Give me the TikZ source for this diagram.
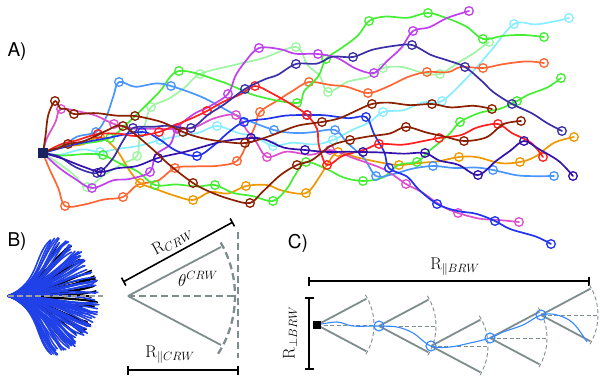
\documentclass[tikz,border=0pt]{standalone}
\usepackage{fontspec}
\newfontfamily\heros{TeX Gyre Heros}
\usetikzlibrary{arrows.meta}
\definecolor{cBrown}{HTML}{8B2000}
\definecolor{cRed}{HTML}{FF1F1F}
\definecolor{cOrg}{HTML}{FF6633}
\definecolor{cGold}{HTML}{EE9900}
\definecolor{cGreen}{HTML}{44EE33}
\definecolor{cLGreen}{HTML}{A0F5A5}
\definecolor{cCyan}{HTML}{88EEFF}
\definecolor{cLBlue}{HTML}{4A95FF}
\definecolor{cBlue}{HTML}{2233EE}
\definecolor{cInd}{HTML}{3A2FA5}
\definecolor{cIndB}{HTML}{3311AA}
\definecolor{cPurp}{HTML}{C040F0}
\definecolor{cMag}{HTML}{DD50CC}
\definecolor{cGray}{HTML}{7F8C8D}
\definecolor{cNavy}{HTML}{1A2260}
\definecolor{cWalk}{HTML}{3388FF}
\definecolor{cFan}{HTML}{2040E8}
\newcommand\rwalk[2]{%
  \gdef\wpts{}\gdef\lx{43}\gdef\ly{153}%
  \foreach \x/\y in {#2}{%
    \pgfmathsetmacro\ax{(2*\lx+\x)/3+3.5*rand}%
    \pgfmathsetmacro\ay{(2*\ly+\y)/3+3.5*rand}%
    \pgfmathsetmacro\bx{(\lx+2*\x)/3+3.5*rand}%
    \pgfmathsetmacro\by{(\ly+2*\y)/3+3.5*rand}%
    \xdef\wpts{\wpts (\ax,\ay) (\bx,\by) (\x,\y)}\xdef\lx{\x}\xdef\ly{\y}}%
  \edef\wtmp{\noexpand\draw[walkline,draw=#1] plot[smooth,tension=0.55] coordinates {(43,153) \wpts};}%
  \wtmp
  \foreach \x/\y in {#2}{\draw[draw=#1,line width=1.3pt] (\x,\y) circle[radius=4.3];}}
\newcommand\csector[1]{%
  \draw[csolid] (#1) -- ++(-28:56);
  \draw[csolid] (#1) -- ++(28:56);
  \draw[cdash] (#1) -- ++(0:57);
  \draw[cdash] (#1) ++(-32:57) arc[start angle=-32,end angle=32,radius=57];}
\begin{document}
\begin{tikzpicture}[x=1pt,y=-1pt,
  walkline/.style={line width=1.7pt,line cap=round,line join=round},
  fanline/.style={line width=1.6pt,line cap=round},
  bsolid/.style={draw=cGray,line width=1.8pt},
  bdash/.style={draw=cGray,line width=2.3pt,dash pattern=on 7pt off 4pt},
  csolid/.style={draw=cGray,line width=1.8pt},
  cdash/.style={draw=cGray,line width=0.9pt,dash pattern=on 4pt off 2.5pt},
  dimline/.style={line width=1.6pt,{Bar[width=9pt]}-{Bar[width=9pt]}},
  plabel/.style={font=\heros\fontsize{19}{19}\selectfont,inner sep=0pt},
  mlabel/.style={font=\fontsize{17}{17}\selectfont,inner sep=1pt}]
\useasboundingbox (0,0) rectangle (600,383);
\pgfmathsetseed{11}

% ---------- Panel A ----------
\node[plabel] (lA) at (17,52) {A)};
\rwalk{cLGreen}{87/187,137/156,151/107,200/74,296/47,328/92,383/68,440/74,489/42}
\rwalk{cCyan}{100/152,160/140,217/126,273/146,333/140,383/112,442/101,514/24,569/18}
\rwalk{cOrg}{65/206,123/197,175/168,237/161,260/112,309/82,368/93,427/72,483/68,544/63}
\rwalk{cGold}{100/137,140/183,193/200,246/186,306/193,338/152,399/165,459/157,520/162,574/137}
\rwalk{cGreen}{103/155,155/185,215/185,273/201,306/162,363/181,417/162,460/122,517/101,561/78}
\rwalk{cGreen}{110/138,179/71,297/103,326/59,369/21,428/13,483/39,544/37}
\rwalk{cLBlue}{96/132,119/82,171/86,274/130,335/130,376/176,433/166,493/170,554/176}
\rwalk{cMag}{61/109,114/124,177/129,236/115,267/157,330/150,406/184,458/213,519/222}
\rwalk{cPurp}{92/188,150/172,177/128,228/94,259/48,318/54,374/73,413/31,469/11}
\rwalk{cBlue}{142/132,197/156,244/122,307/115,366/117,389/168,437/204,495/221,551/244}
\rwalk{cRed}{98/134,159/132,207/111,255/86,307/115,327/165,379/144,439/138,498/124,543/157}
\rwalk{cInd}{97/173,133/128,191/128,245/89,296/64,353/57,412/45,465/67,512/104,562/131}
\rwalk{cIndB}{101/172,158/158,251/138,305/150,363/152,425/153,478/175,524/141,573/176}
\rwalk{cBrown}{55/101,74/114,135/116,183/132,245/143,322/122,372/104,432/104,492/109}
\rwalk{cBrown}{68/144,123/126,193/183,250/203,297/165,350/140,406/127,464/141,521/121}
\node[fill=cNavy,minimum size=10pt,inner sep=0pt] (O) at (43,153) {};

% ---------- Panel B ----------
\node[plabel] (lB) at (17,242) {B)};
\coordinate (F) at (8,296);
\pgfmathsetseed{7}
\foreach \i in {1,...,30}{
  \pgfmathsetmacro\a{rand*52}
  \pgfmathsetmacro\L{86-16*(\a/52)^2+4*rand}
  \pgfmathsetmacro\c{\a*0.35+6*rand}
  \pgfmathsetmacro\e{\a+180+15*rand}
  \draw[fanline,draw=black] (F) .. controls +(\c:35) and +(\e:22) .. +(\a:\L);
}
\foreach \i in {1,...,90}{
  \pgfmathsetmacro\a{rand*55}
  \pgfmathsetmacro\L{88-18*(\a/55)^2+4*rand}
  \pgfmathsetmacro\c{\a*0.35+6*rand}
  \pgfmathsetmacro\e{\a+180+15*rand}
  \draw[fanline,draw=cFan] (F) .. controls +(\c:35) and +(\e:22) .. +(\a:\L);
}
\coordinate (Fe) at (103,296);
\draw[draw=gray!75,line width=1.3pt,dash pattern=on 6pt off 3pt] (F) -- (Fe);

\coordinate (Ba) at (128,296);
\coordinate (Bu) at (221,247);
\coordinate (Bl) at (221,345);
\coordinate (Bc) at (235,296);
\draw[bsolid] (Ba) -- (Bu);
\draw[bsolid] (Ba) -- (Bl);
\draw[bdash] (Ba) -- (Bc);
\draw[bdash] (Ba) ++(-30:107) arc[start angle=-30,end angle=33,radius=107];
\coordinate (Bvt) at (238,232);
\coordinate (Bvb) at (238,358);
\draw[bdash] (Bvt) -- (Bvb);

\coordinate (D1a) at (123,282);
\coordinate (D1b) at (233,222);
\draw[dimline] (D1a) -- (D1b) node[midway,sloped,above=3pt,mlabel] {$\mathrm{R}_{CRW}$};
\node[mlabel] (th) at (198,279) {$\theta^{CRW}$};
\coordinate (D2a) at (127,370);
\coordinate (D2b) at (239,370);
\draw[dimline] (D2a) -- (D2b);
\node[mlabel] (rpc) at (170,355) {$\mathrm{R}_{\parallel CRW}$};

% ---------- Panel C ----------
\node[plabel] (lC) at (298,243) {C)};
\coordinate (D3a) at (308,281);
\coordinate (D3b) at (590,281);
\draw[dimline] (D3a) -- (D3b);
\node[mlabel] (rpb) at (455,267) {$\mathrm{R}_{\parallel BRW}$};
\coordinate (D4a) at (309,297);
\coordinate (D4b) at (309,370);
\draw[dimline] (D4a) -- (D4b);
\node[mlabel,rotate=90] (rqb) at (290,333) {$\mathrm{R}_{\perp BRW}$};

\coordinate (S1) at (317,325);
\coordinate (S2) at (379,326);
\coordinate (S3) at (431,346);
\coordinate (S4) at (490,338);
\coordinate (S5) at (541,315);
\csector{S1}
\csector{S2}
\csector{S3}
\csector{S4}
\csector{S5}
\coordinate (We) at (587,342);
\draw[draw=cWalk,line width=1.1pt] plot[smooth,tension=0.6] coordinates {(S1) (337,322) (353,326) (S2) (397,327) (413,333) (S3) (450,347) (470,343) (S4) (503,332) (523,325) (S5) (557,315) (573,323) (We)};
\foreach \s in {S2,S3,S4,S5}{\node[circle,draw=cWalk,line width=1.1pt,minimum size=10pt,inner sep=0pt] at (\s) {};}
\node[fill=black,minimum size=8pt,inner sep=0pt] (sq) at (S1) {};
\end{tikzpicture}
\end{document}
